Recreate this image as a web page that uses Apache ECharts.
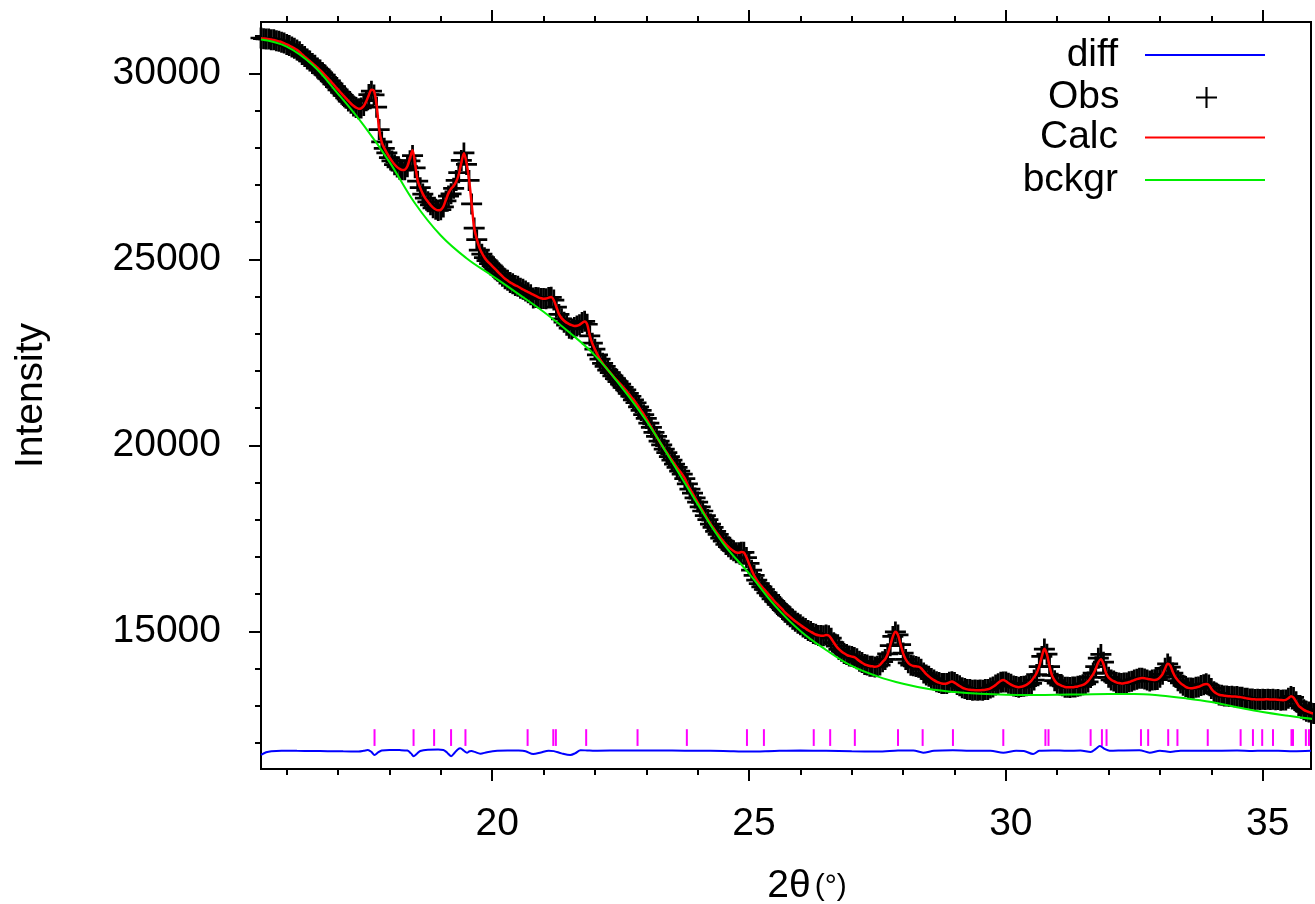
<!DOCTYPE html>
<html><head><meta charset="utf-8">
<script src="https://cdn.jsdelivr.net/npm/echarts@6/dist/echarts.min.js"></script>
<style>html,body{margin:0;padding:0;background:#fff}#c{width:1315px;height:904px}</style>
</head><body><div id="c"></div>
<script>
// ---- data (2theta grid: start + step * index) ----
const thetaStart = 15.5;
const thetaStep = 0.05;
const calc = [
 30940,30935,30930,30920,30910,30895,30880,30860,30840,30810,
 30780,30745,30710,30670,30630,30575,30510,30450,30390,30330,30270,30210,30150,30085,30020,29945,29870,29795,29720,29640,
 29560,29485,29410,29335,29260,29190,29130,29080,29050,29060,29120,29250,29420,29560,29530,29150,28500,28150,27990,27860,
 27740,27640,27550,27480,27430,27400,27410,27500,27720,27930,27550,27120,26920,26760,26640,26550,26460,26390,26340,26320,
 26330,26420,26600,26780,26900,26970,27090,27280,27600,27850,27600,27150,26500,25850,25550,25320,25170,25050,24960,24890,
 24820,24750,24680,24610,24540,24480,24430,24380,24340,24300,24270,24230,24190,24155,24120,24085,24050,24015,23980,23955,
 23940,23945,23970,23985,23900,23720,23530,23420,23350,23300,23260,23230,23210,23215,23240,23290,23330,23250,22950,22740,
 22580,22440,22310,22210,22120,22030,21950,21870,21790,21715,21640,21565,21485,21400,21315,21230,21140,21040,20935,20830,
 20720,20600,20480,20355,20235,20120,20010,19905,19800,19700,19600,19500,19400,19310,19220,19110,18960,18830,18710,18590,
 18470,18350,18230,18115,18000,17890,17790,17690,17600,17510,17420,17340,17270,17210,17160,17120,17110,17130,17120,16990,
 16820,16650,16500,16380,16280,16200,16120,16040,15960,15880,15800,15730,15660,15590,15510,15450,15390,15330,15270,15220,
 15170,15120,15075,15030,14990,14950,14915,14895,14885,14885,14900,14890,14810,14700,14600,14520,14460,14410,14370,14340,
 14320,14305,14260,14200,14155,14115,14090,14070,14060,14050,14060,14100,14180,14250,14390,14620,14860,14990,14900,14650,
 14410,14250,14150,14095,14070,14060,14050,14010,13930,13850,13790,13735,13690,13650,13620,13600,13590,13600,13630,13650,
 13620,13575,13530,13490,13460,13440,13430,13425,13420,13420,13420,13423,13430,13445,13470,13510,13560,13620,13670,13690,
 13660,13610,13570,13535,13510,13500,13510,13530,13560,13610,13680,13770,13880,14060,14320,14530,14380,14060,13810,13680,
 13600,13560,13530,13505,13495,13495,13500,13510,13520,13540,13560,13600,13660,13750,13850,13990,14170,14250,14120,13880,
 13760,13700,13660,13630,13610,13600,13605,13620,13640,13665,13690,13715,13735,13745,13740,13725,13710,13700,13695,13710,
 13760,13850,14000,14130,14080,13910,13770,13680,13610,13555,13510,13480,13470,13475,13490,13510,13540,13570,13585,13560,
 13460,13380,13330,13295,13280,13270,13260,13255,13250,13248,13245,13235,13225,13210,13195,13185,13175,13172,13170,13170,
 13170,13172,13172,13170,13168,13165,13160,13155,13150,13160,13200,13255,13220,13110,13000,12940,12890,12855,12830,12805,
 12790
];
const obs = [
 30950,30930,30925,30925,30905,30900,30875,30865,30835,30815,
 30775,30750,30705,30675,30625,30580,30505,30455,30385,30335,30265,30215,30145,30090,30015,29950,29865,29800,29715,29645,
 29555,29490,29405,29340,29255,29195,29125,29085,29045,29070,29135,29265,29430,29520,29420,29090,28490,28160,27985,27865,
 27735,27645,27545,27485,27425,27405,27405,27490,27650,27790,27460,27100,26925,26755,26645,26545,26465,26385,26345,26315,
 26335,26410,26570,26700,26760,26910,27120,27330,27660,27860,27550,27120,26490,25840,25530,25250,25140,25045,24965,24885,
 24825,24745,24685,24605,24545,24475,24435,24375,24345,24295,24275,24225,24195,24150,24100,24045,23960,23975,23970,23950,
 23945,23940,23975,23980,23905,23715,23520,23400,23310,23230,23150,23130,23170,23210,23245,23300,23335,23255,22945,22745,
 22585,22435,22315,22205,22125,22025,21955,21865,21795,21710,21645,21560,21490,21395,21320,21225,21145,21035,20940,20825,
 20725,20595,20485,20350,20240,20115,20015,19900,19805,19695,19605,19495,19405,19305,19225,19105,18965,18825,18715,18585,
 18475,18345,18235,18110,18005,17885,17795,17685,17605,17505,17425,17335,17275,17205,17165,17115,17115,17125,17125,16985,
 16825,16645,16505,16375,16285,16195,16125,16035,15965,15875,15805,15725,15665,15585,15515,15445,15395,15325,15275,15215,
 15175,15115,15080,15025,14995,14945,14920,14890,14890,14880,14905,14885,14815,14695,14605,14515,14465,14405,14375,14335,
 14325,14300,14265,14195,14160,14110,14095,14065,14065,14045,14065,14095,14185,14245,14395,14615,14865,14985,14905,14645,
 14415,14245,14155,14090,14075,14055,14035,13980,13880,13830,13795,13730,13695,13645,13625,13595,13595,13595,13635,13645,
 13625,13570,13535,13485,13465,13435,13435,13420,13425,13415,13425,13418,13435,13440,13475,13505,13555,13590,13630,13640,
 13640,13605,13575,13530,13515,13495,13515,13525,13540,13560,13600,13690,13840,14050,14325,14525,14385,14055,13815,13675,
 13605,13555,13535,13500,13500,13490,13505,13505,13525,13535,13565,13590,13640,13760,13880,14050,14280,14380,14170,13875,
 13765,13695,13665,13625,13615,13595,13610,13615,13645,13660,13695,13710,13740,13740,13720,13690,13665,13690,13700,13705,
 13765,13845,14005,14125,14040,13880,13775,13675,13615,13550,13515,13475,13475,13470,13495,13505,13545,13565,13590,13555,
 13465,13375,13335,13290,13285,13265,13265,13250,13255,13243,13250,13230,13230,13205,13200,13180,13180,13167,13175,13165,
 13175,13167,13177,13165,13173,13160,13165,13150,13155,13155,13205,13250,13225,13105,13005,12935,12895,12850,12835,12800,
 12795
];
const bckgrPoints = [
 [15.5,30910],[16.0,30720],[16.5,30230],[17.0,29450],[17.5,28600],[18.0,27620],[18.5,26500],[19.0,25640],
 [19.5,25030],[20.0,24560],[20.5,24080],[21.0,23590],[21.5,23040],[22.0,22420],[22.5,21600],[23.0,20660],
 [23.5,19560],[24.0,18420],[24.5,17360],[25.0,16560],[25.5,15700],[26.0,15010],[26.5,14500],[27.0,14070],
 [27.5,13790],[28.0,13590],[28.5,13450],[29.0,13370],[29.5,13320],[30.0,13295],[30.5,13290],[31.0,13295],
 [31.5,13305],[32.0,13315],[32.5,13315],[33.0,13275],[33.5,13200],[34.0,13100],[34.5,12960],[35.0,12830],
 [35.5,12730],[36.0,12640]
];
const diffPoints = [
 [15.5,11680],[15.6,11750],[15.7,11780],[15.9,11792],[16.2,11788],[16.5,11785],[16.8,11780],[17.1,11775],
 [17.4,11772],[17.5,11790],[17.58,11812],[17.65,11760],[17.71,11675],[17.78,11745],[17.85,11800],[18.0,11810],
 [18.2,11808],[18.35,11795],[18.42,11720],[18.47,11645],[18.53,11705],[18.6,11785],[18.75,11818],[18.95,11822],
 [19.05,11812],[19.12,11745],[19.2,11645],[19.27,11735],[19.33,11825],[19.38,11856],[19.45,11790],[19.51,11738],
 [19.56,11778],[19.6,11782],[19.66,11760],[19.77,11712],[19.9,11752],[20.1,11790],[20.3,11800],[20.5,11795],
 [20.65,11775],[20.8,11700],[20.95,11745],[21.1,11792],[21.2,11780],[21.35,11720],[21.52,11676],[21.62,11725],
 [21.72,11805],[21.85,11798],[22.0,11790],[22.5,11798],[23.0,11800],[23.5,11795],[24.0,11790],[24.5,11785],
 [25.0,11770],[25.5,11785],[26.0,11795],[26.5,11790],[27.0,11775],[27.5,11770],[27.9,11795],[28.2,11800],
 [28.39,11740],[28.6,11790],[28.97,11805],[29.3,11790],[29.7,11792],[29.95,11740],[30.2,11792],[30.35,11785],
 [30.53,11702],[30.65,11790],[30.9,11800],[31.2,11790],[31.45,11795],[31.65,11755],[31.75,11840],[31.83,11918],
 [31.92,11840],[32.02,11790],[32.3,11800],[32.6,11805],[32.8,11740],[33.0,11790],[33.2,11760],[33.4,11790],
 [33.9,11792],[34.5,11795],[34.8,11785],[35.0,11792],[35.3,11790],[35.6,11780],[35.94,11792]
];
const reflections = [
 17.71,18.47,18.87,19.20,19.48,20.69,21.19,21.24,21.83,22.83,23.79,24.96,25.29,26.26,26.58,27.06,27.90,
 28.38,28.97,29.95,30.77,30.83,31.65,31.87,31.96,32.63,32.77,33.16,33.34,33.93,34.57,34.81,34.99,35.20,
 35.56,35.59,35.84,35.90
];
const reflLow = 11920, reflHigh = 12370;
const xRange = [15.5, 35.94];
const yRange = [11300, 31380];
const xMajorTicks = [20, 25, 30, 35];
const xMinorTicks = [16,17,18,19,21,22,23,24,26,27,28,29,31,32,33,34];
const yMajorTicks = [15000, 20000, 25000, 30000];
const yMinorTicks = [12000,13000,14000,16000,17000,18000,19000,21000,22000,23000,24000,26000,27000,28000,29000,31000];
const seriesNames = ['diff', 'Obs', 'Calc', 'bckgr'];

// ---- chart ----
const FONT = "'Liberation Sans', Arial, Helvetica, sans-serif";
const plusPath = 'path://M8.7,0H11.3V8.7H20V11.3H11.3V20H8.7V11.3H0V8.7H8.7Z';
const plusLegendPath = 'path://M9,0H11V9H20V11H11V20H9V11H0V9H9Z';
const obsData = obs.map((v, i) => [+(thetaStart + i * thetaStep).toFixed(2), v]);
const calcData = calc.map((v, i) => [+(thetaStart + i * thetaStep).toFixed(2), v]);
const tickLine = { color: '#000', width: 2 };
const plainNum = v => String(v);

function xAx(pos, ticks, len, labels) {
  return {
    type: 'value', min: xRange[0], max: xRange[1], position: pos,
    axisLine: { show: false }, splitLine: { show: false },
    axisTick: { show: true, inside: false, length: len, customValues: ticks, lineStyle: tickLine },
    axisLabel: labels ? { customValues: ticks, formatter: plainNum, fontSize: 39, color: '#000', fontFamily: FONT, margin: 36, padding: [0, 0, 0, 10] } : { show: false }
  };
}
function yAx(ticks, len, labels) {
  return {
    type: 'value', min: yRange[0], max: yRange[1], position: 'left',
    axisLine: { show: false }, splitLine: { show: false },
    axisTick: { show: true, inside: false, length: len, customValues: ticks, lineStyle: tickLine },
    axisLabel: labels ? { customValues: ticks, formatter: plainNum, fontSize: 39, color: '#000', fontFamily: FONT, margin: 40 } : { show: false }
  };
}
const xMain = xAx('bottom', xMajorTicks, 12, true);
xMain.name = '{a|2θ}{b|(°)}';
xMain.nameLocation = 'middle';
xMain.nameGap = 98;
xMain.nameTextStyle = { padding: [0, 0, 0, 42], rich: { a: { fontSize: 39, fontFamily: FONT, color: '#000' }, b: { fontSize: 30, fontFamily: FONT, color: '#000', padding: [0, 0, 0, 4] } } };
const yMain = yAx(yMajorTicks, 12, true);
yMain.name = 'Intensity';
yMain.nameLocation = 'middle';
yMain.nameGap = 210;
yMain.nameRotate = 90;
yMain.nameTextStyle = { fontSize: 39, fontFamily: FONT, color: '#000' };

function legendFor(name, top, right, icon, h) {
  return {
    data: [{ name: name, icon: icon }], right: right, top: top, orient: 'horizontal', align: 'right',
    itemWidth: 120, itemHeight: h, padding: 0, selectedMode: false,
    textStyle: { fontSize: 39, color: '#000', fontFamily: FONT, padding: [0, 22, 0, 0] }
  };
}

const option = {
  animation: false,
  backgroundColor: '#fff',
  grid: { left: 261, top: 22, width: 1050, height: 747, show: true, borderColor: '#000', borderWidth: 2,
          backgroundColor: 'transparent', containLabel: false, outerBoundsMode: 'none' },
  xAxis: [xMain, xAx('bottom', xMinorTicks, 6, false), xAx('top', xMajorTicks, 12, false), xAx('top', xMinorTicks, 6, false)],
  yAxis: [yMain, yAx(yMinorTicks, 6, false)],
  legend: [
    legendFor(seriesNames[0], 35.5, 50, 'rect', 2),
    legendFor(seriesNames[1], 78, 98, plusLegendPath, 21),
    legendFor(seriesNames[2], 118, 50, 'rect', 2),
    legendFor(seriesNames[3], 160.5, 50, 'rect', 2)
  ],
  series: [
    { name: seriesNames[0], type: 'line', data: diffPoints, symbol: 'none', smooth: 0.3, z: 2,
      lineStyle: { color: '#0000ff', width: 2 }, itemStyle: { color: '#0000ff' } },
    { name: 'refl', type: 'custom', z: 2, data: reflections.map(t => [t, reflLow, reflHigh]),
      encode: { x: 0, y: [1, 2] },
      renderItem: function (params, api) {
        const p1 = api.coord([api.value(0), api.value(1)]);
        const p2 = api.coord([api.value(0), api.value(2)]);
        return { type: 'line', shape: { x1: p1[0], y1: p1[1], x2: p2[0], y2: p2[1] }, style: { stroke: '#ff00ff', lineWidth: 2 } };
      } },
    { name: seriesNames[1], type: 'scatter', data: obsData, symbol: plusPath, symbolSize: 21, clip: false, z: 3,
      itemStyle: { color: '#000', opacity: 1 }, emphasis: { disabled: true } },
    { name: seriesNames[2], type: 'line', data: calcData, symbol: 'none', smooth: 0.3, z: 4,
      lineStyle: { color: '#ff0000', width: 2.5 }, itemStyle: { color: '#ff0000' } },
    { name: seriesNames[3], type: 'line', data: bckgrPoints, symbol: 'none', smooth: 0.4, z: 5,
      lineStyle: { color: '#00ee00', width: 2 }, itemStyle: { color: '#00ee00' } }
  ]
};
const chart = echarts.init(document.getElementById('c'), null, { renderer: 'canvas' });
chart.setOption(option);
</script>
</body></html>
